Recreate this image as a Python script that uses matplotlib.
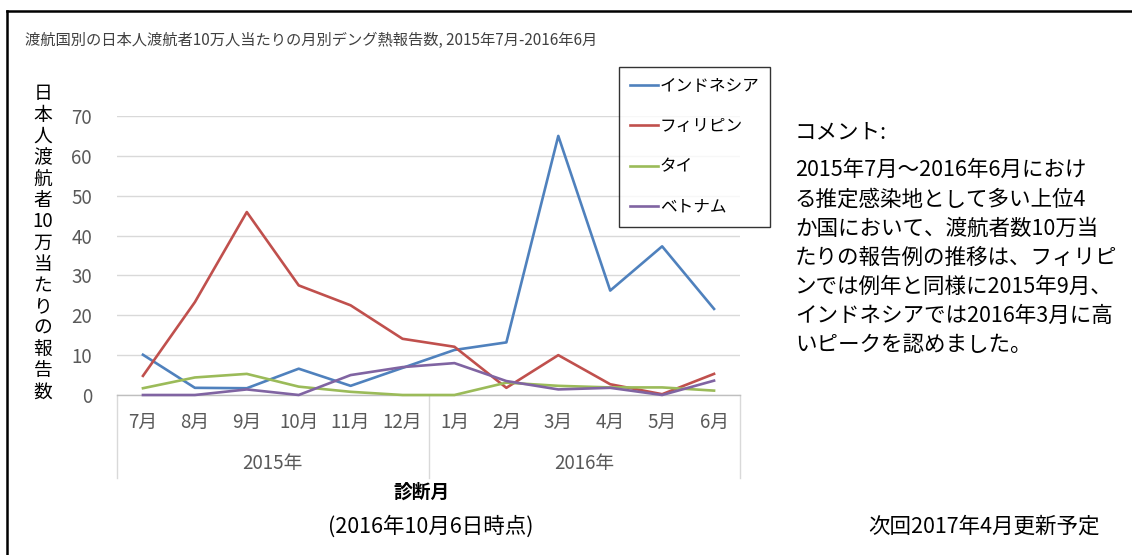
import matplotlib
matplotlib.use("Agg")
import matplotlib.pyplot as plt
from matplotlib.lines import Line2D
import matplotlib.transforms as mtransforms

plt.rcParams['font.family'] = ['Noto Sans CJK JP', 'DejaVu Sans']

months = ["7月", "8月", "9月", "10月", "11月", "12月",
          "1月", "2月", "3月", "4月", "5月", "6月"]
years = ["2015年", "2016年"]
year_groups = [6, 6]

indonesia = [10.1, 1.8, 1.7, 6.6, 2.3, 6.8, 11.3, 13.2, 65.0, 26.2, 37.3, 21.6]
philippines = [4.8, 23.3, 45.9, 27.5, 22.5, 14.1, 12.1, 1.8, 10.0, 2.7, 0.2, 5.3]
thailand = [1.7, 4.4, 5.3, 2.1, 0.8, 0.0, 0.0, 3.1, 2.3, 1.9, 1.9, 1.1]
vietnam = [0.0, 0.0, 1.4, 0.0, 5.0, 7.0, 8.0, 3.5, 1.4, 1.8, 0.0, 3.6]

series = [("インドネシア", indonesia, "#4f81bd"),
          ("フィリピン", philippines, "#c0504d"),
          ("タイ", thailand, "#9bbb59"),
          ("ベトナム", vietnam, "#8064a2")]

title = "渡航国別の日本人渡航者10万人当たりの月別デング熱報告数, 2015年7月-2016年6月"
ylabel_chars = ["日", "本", "人", "渡", "航", "者", "10", "万", "当", "た", "り", "の", "報", "告", "数"]
comment_head = "コメント:"
comment_lines = ["2015年7月～2016年6月におけ",
                 "る推定感染地として多い上位4",
                 "か国において、渡航者数10万当",
                 "たりの報告例の推移は、フィリピ",
                 "ンでは例年と同様に2015年9月、",
                 "インドネシアでは2016年3月に高",
                 "いピークを認めました。"]

W, H = 1132, 555
fig = plt.figure(figsize=(W / 100, H / 100), dpi=100)

def fx(px):
    return px / W

def fy(py):
    return 1 - py / H

# plot area: x 117..740, y 116..395 px
ax = fig.add_axes([fx(117), fy(395), fx(740) - fx(117), fy(116) - fy(395)])
x = list(range(len(months)))
for name, vals, col in series:
    ax.plot(x, vals, color=col, lw=1.9, label=name, clip_on=False, zorder=3)

ax.set_xlim(-0.5, len(months) - 0.5)
ax.set_ylim(0, 70)
ax.set_yticks(range(0, 71, 10))
ax.yaxis.grid(True, color="#d9d9d9", lw=1)
ax.set_axisbelow(True)
for s in ["top", "right", "left"]:
    ax.spines[s].set_visible(False)
ax.spines["bottom"].set_color("#bfbfbf")
ax.spines["bottom"].set_linewidth(1)
ax.tick_params(axis="y", length=0, pad=18, labelsize=13.5, labelcolor="#595959")
ax.set_xticks([])

trans = mtransforms.blended_transform_factory(ax.transData, ax.transAxes)
depth = (478 - 395) / (395 - 116)
# category separators
edges = [-0.5]
for n in year_groups:
    edges.append(edges[-1] + n)
for e in edges:
    ax.plot([e, e], [0, -depth], transform=trans, color="#d9d9d9", lw=1, clip_on=False)

for i, m in enumerate(months):
    ax.text(i, -(422 - 395) / 279, m, transform=trans, ha="center", va="center",
            fontsize=13.5, color="#595959")
for j, yname in enumerate(years):
    c = (edges[j] + edges[j + 1]) / 2
    ax.text(c, -(464 - 395) / 279, yname, transform=trans, ha="center", va="center",
            fontsize=13.5, color="#595959")

leg = fig.legend(loc="upper left", bbox_to_anchor=(fx(619), fy(67)), borderaxespad=0,
                 frameon=True, fancybox=False, fontsize=12, handlelength=1.7,
                 handletextpad=0.1, labelspacing=1.4, borderpad=0.65)
leg.get_frame().set_edgecolor("black")
leg.get_frame().set_linewidth(1)

# y label, stacked characters
for k, ch in enumerate(ylabel_chars):
    fig.text(fx(43), fy(94 + k * 21.3), ch, ha="center", va="center", fontsize=13.5, color="black")

fig.text(fx(25), fy(40), title, ha="left", va="center", fontsize=11, color="#404040")
fig.text(fx(422), fy(492), "診断月", ha="center", va="center", fontsize=13.5,
         fontweight="bold", color="black")

fig.text(fx(795), fy(132), comment_head, ha="left", va="center", fontsize=15.5, color="black")
for k, line in enumerate(comment_lines):
    fig.text(fx(795), fy(170 + k * 29.2), line, ha="left", va="center", fontsize=15.5, color="black")

fig.text(fx(431), fy(527), "(2016年10月6日時点)", ha="center", va="center", fontsize=15.5)
fig.text(fx(984), fy(527), "次回2017年4月更新予定", ha="center", va="center", fontsize=15.5)

# outer frame
fig.add_artist(Line2D([fx(7), 1], [fy(11), fy(11)], color="black", lw=1.8, transform=fig.transFigure))
fig.add_artist(Line2D([fx(7), fx(7)], [fy(11), 0], color="black", lw=1.8, transform=fig.transFigure))

fig.savefig("out.png", dpi=100)
